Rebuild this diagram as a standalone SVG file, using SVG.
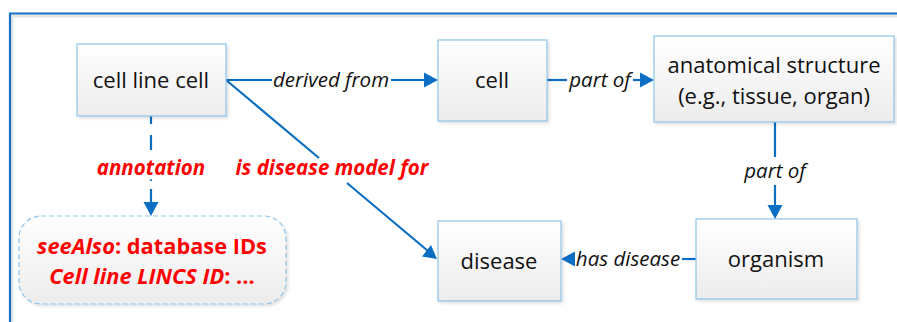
<svg xmlns="http://www.w3.org/2000/svg" width="897" height="322" viewBox="0 0 897 322">
<style>
.box{fill:url(#g);stroke:#8cc3ea;stroke-width:1.2;filter:url(#sh)}
.t{font-family:"Open Sans","Noto Sans",sans-serif;font-size:22px;fill:#111;text-anchor:middle}
.l{font-family:"Open Sans","Noto Sans",sans-serif;font-size:20.5px;font-style:italic;fill:#111;text-anchor:middle}
.r{font-family:"Open Sans","Noto Sans",sans-serif;font-size:20.5px;font-style:italic;font-weight:bold;fill:#ff0000;text-anchor:middle}
.c{stroke:#0a6fc2;stroke-width:2.2;fill:none}
.b{font-family:"Open Sans","Noto Sans",sans-serif;font-size:21.8px;font-weight:bold;fill:#ff0000;text-anchor:middle}
</style>
<defs>
<linearGradient id="g" x1="0" y1="0" x2="0" y2="1"><stop offset="0" stop-color="#ffffff"/><stop offset="1" stop-color="#ececec"/></linearGradient>
<filter id="sh" x="-5%" y="-5%" width="115%" height="120%"><feDropShadow dx="2" dy="2" stdDeviation="1.5" flood-color="#000" flood-opacity="0.12"/></filter>
</defs>
<rect width="897" height="322" fill="#fff"/>
<path d="M12,322 V16 H897" fill="none" stroke="#e6e6e6" stroke-width="3"/>
<path d="M10,322 V13.5 H897" fill="none" stroke="#1770c6" stroke-width="2.2"/>

<g id="connectors">
<path class="c" d="M226,80 H272"/>
<path class="c" d="M391,80 H425"/><path d="M424,72.5 L438,80 L424,87.5 z" fill="#0a6fc2"/>
<path class="c" d="M547,80 H567"/>
<path class="c" d="M633,80 H643"/><path d="M640,72.5 L654,80 L640,87.5 z" fill="#0a6fc2"/>
<path class="c" d="M775,122 V157"/>
<path class="c" d="M775,185 V206"/><path d="M767.5,205 L775,219 L782.5,205 z" fill="#0a6fc2"/>
<path class="c" d="M696,259 H682"/>
<path d="M575,251.5 L561,259 L575,266.5 z" fill="#0a6fc2"/>
<path class="c" d="M151,116 V124 M151,135 V150 M151,179.5 V181"/>
<path class="c" d="M151,189 V204"/><path d="M143.5,202 L151,216 L158.5,202 z" fill="#0a6fc2"/>
<path class="c" d="M226,80 L319,158"/>
<path class="c" d="M347,183 L428,251"/><path d="M422,256.5 L437,259 L431,245 z" fill="#0a6fc2"/>
<text class="l" x="331" y="87">derived from</text>
<text class="l" x="600" y="87">part of</text>
<text class="l" x="775" y="178">part of</text>
<text class="l" x="628" y="266">has disease</text>
<text class="r" x="151" y="175">annotation</text>
<text class="r" x="332" y="175">is disease model for</text>
</g>

<g id="cellline"><rect class="box" x="77" y="44" width="149" height="72"/><text class="t" x="151" y="88">cell line cell</text></g>
<g id="cell"><rect class="box" x="438" y="40" width="109" height="81"/><text class="t" x="492" y="88">cell</text></g>
<g id="anatomical"><rect class="box" x="654" y="36" width="240" height="86"/><text class="t" x="774" y="73">anatomical structure</text><text class="t" x="774" y="104">(e.g., tissue, organ)</text></g>
<g id="disease"><rect class="box" x="438" y="221" width="123" height="80"/><text class="t" x="499" y="269">disease</text></g>
<g id="organism"><rect class="box" x="696" y="219" width="161" height="80"/><text class="t" x="776" y="267">organism</text></g>
<g id="annotationbox"><rect x="19" y="216" width="267" height="88" rx="22" fill="url(#g)" stroke="#8cc3ea" stroke-width="1.2" stroke-dasharray="5,3" filter="url(#sh)"/>
<text class="b" x="152" y="254"><tspan font-style="italic">seeAlso</tspan>: database IDs</text>
<text class="b" x="152" y="284"><tspan font-style="italic">Cell line LINCS ID</tspan>: ...</text>
</g>
</svg>
